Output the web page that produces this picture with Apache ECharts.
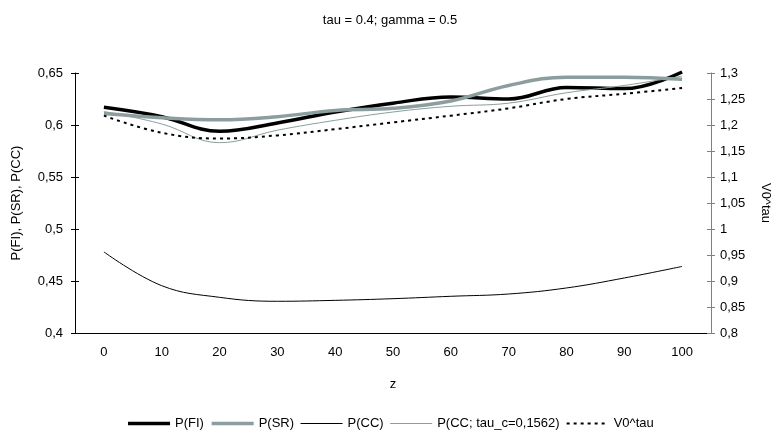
<!DOCTYPE html>
<html lang="en">
<head>
    <meta charset="UTF-8">
    <title>tau = 0.4; gamma = 0.5</title>
    <script src="https://cdn.jsdelivr.net/npm/echarts/dist/echarts.min.js"></script>
    <style>
        html, body { margin: 0; padding: 0; background: #fff; }
        #main { width: 780px; height: 446px; }
    </style>
</head>
<body>
    <div id="main"></div>
    <script>
        // z values along the x axis
        var zValues = ['0', '10', '20', '30', '40', '50', '60', '70', '80', '90', '100'];

        // left axis series
        var pFI = [0.617, 0.608, 0.594, 0.602, 0.6125, 0.621, 0.627, 0.625, 0.636, 0.635, 0.651];
        var pSR = [0.611, 0.607, 0.605, 0.608, 0.614, 0.616, 0.623, 0.638, 0.646, 0.646, 0.644];
        var pCC = [0.478, 0.4455, 0.4343, 0.4305, 0.4314, 0.433, 0.4353, 0.4375, 0.4433, 0.4529, 0.464];
        var pCCtau = [0.613, 0.601, 0.583, 0.595, 0.6045, 0.6125, 0.618, 0.621, 0.631, 0.638, 0.647];

        // right axis series
        var v0tau = [1.218, 1.185, 1.174, 1.18, 1.192, 1.205, 1.218, 1.232, 1.25, 1.26, 1.271];

        var font = 'Liberation Sans, Arial, sans-serif';
        var gray = '#8c9d9d';

        // line looks shared by the series and their legend icons
        var styleFI = { width: 3.5, color: '#000' };
        var styleSR = { width: 3.5, color: gray };
        var styleCC = { width: 1, color: '#000' };
        var styleCCtau = { width: 1, color: gray };
        var styleV0 = { width: 2, color: '#000', type: [3, 4] };

        function comma(v) {
            return String(Math.round(v * 100) / 100).replace('.', ',');
        }

        // extra axis copies, only used to draw the inner half of the crossing ticks
        function innerTicks(pos, min, max, color) {
            return {
                type: 'value',
                position: pos,
                min: min,
                max: max,
                interval: 0.05,
                axisLine: { show: false },
                axisTick: { show: true, inside: true, length: 4, lineStyle: { color: color } },
                axisLabel: { show: false },
                splitLine: { show: false }
            };
        }

        function legendItem(name, style) {
            return { name: name, lineStyle: style };
        }

        var chart = echarts.init(document.getElementById('main'));
        var option = {
            backgroundColor: '#fff',
            animation: false,
            textStyle: { fontFamily: font },
            title: {
                text: 'tau = 0.4; gamma = 0.5',
                left: 'center',
                top: 9,
                textStyle: { fontFamily: font, fontSize: 13, fontWeight: 'normal', color: '#000' }
            },
            legend: {
                bottom: 11,
                left: 'center',
                itemWidth: 42,
                itemHeight: 12,
                itemGap: 6,
                textStyle: { fontFamily: font, fontSize: 13, color: '#000' },
                itemStyle: { opacity: 0, color: 'transparent', borderColor: 'transparent', borderWidth: 0 },
                data: [
                    legendItem('P(FI)', styleFI),
                    legendItem('P(SR)', styleSR),
                    legendItem('P(CC)', styleCC),
                    legendItem('P(CC; tau_c=0,1562)', styleCCtau),
                    legendItem('V0^tau', styleV0)
                ]
            },
            grid: {
                left: 75,
                right: 67,
                top: 73,
                bottom: 113
            },
            xAxis: {
                type: 'category',
                data: zValues,
                boundaryGap: true,
                name: 'z',
                nameLocation: 'middle',
                nameGap: 45,
                nameTextStyle: { fontFamily: font, fontSize: 13, color: '#000' },
                axisLine: { lineStyle: { color: '#000' } },
                axisTick: { length: 5, lineStyle: { color: '#000' } },
                axisLabel: { color: '#000', fontSize: 13, margin: 13 },
                splitLine: { show: false }
            },
            yAxis: [
                {
                    type: 'value',
                    min: 0.4,
                    max: 0.65,
                    interval: 0.05,
                    name: 'P(FI), P(SR), P(CC)',
                    nameLocation: 'middle',
                    nameGap: 52,
                    nameTextStyle: { fontFamily: font, fontSize: 13, color: '#000' },
                    axisLine: { show: true, lineStyle: { color: '#000' } },
                    axisTick: { show: true, length: 4, lineStyle: { color: '#000' } },
                    axisLabel: { color: '#000', fontSize: 13, margin: 12, formatter: comma },
                    splitLine: { show: false }
                },
                {
                    type: 'value',
                    min: 0.8,
                    max: 1.3,
                    interval: 0.05,
                    position: 'right',
                    name: 'V0^tau',
                    nameLocation: 'middle',
                    nameRotate: -90,
                    nameGap: 48,
                    nameTextStyle: { fontFamily: font, fontSize: 13, color: '#000' },
                    axisLine: { show: true, lineStyle: { color: '#808080' } },
                    axisTick: { show: true, length: 4, lineStyle: { color: '#808080' } },
                    axisLabel: { color: '#000', fontSize: 13, margin: 9, formatter: comma },
                    splitLine: { show: false }
                },
                innerTicks('left', 0.4, 0.65, '#000'),
                innerTicks('right', 0.8, 1.3, '#808080')
            ],
            series: [
                {
                    name: 'P(FI)',
                    type: 'line',
                    data: pFI,
                    smooth: 0.4,
                    symbol: 'none',
                    clip: false,
                    color: '#000',
                    lineStyle: styleFI
                },
                {
                    name: 'P(SR)',
                    type: 'line',
                    data: pSR,
                    smooth: 0.4,
                    symbol: 'none',
                    clip: false,
                    color: gray,
                    lineStyle: styleSR
                },
                {
                    name: 'P(CC)',
                    type: 'line',
                    data: pCC,
                    smooth: 0.4,
                    symbol: 'none',
                    color: '#000',
                    lineStyle: styleCC
                },
                {
                    name: 'P(CC; tau_c=0,1562)',
                    type: 'line',
                    data: pCCtau,
                    smooth: 0.4,
                    symbol: 'none',
                    color: gray,
                    lineStyle: styleCCtau
                },
                {
                    name: 'V0^tau',
                    type: 'line',
                    yAxisIndex: 1,
                    data: v0tau,
                    smooth: 0.4,
                    symbol: 'none',
                    color: '#000',
                    lineStyle: styleV0
                }
            ]
        };

        chart.setOption(option);
    </script>
</body>
</html>
